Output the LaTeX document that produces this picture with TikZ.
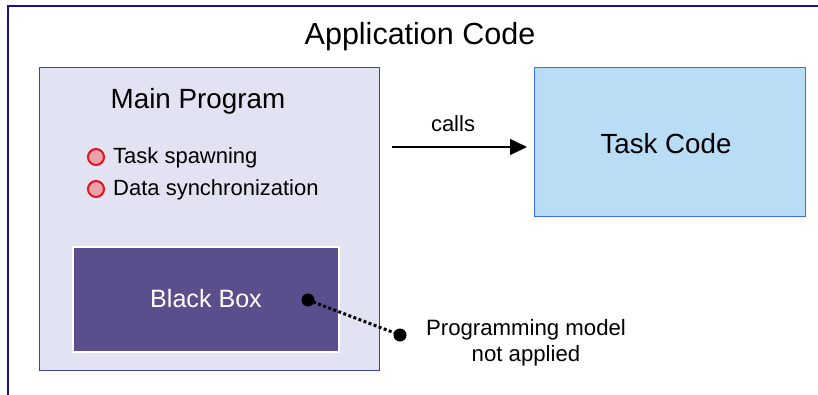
\documentclass[tikz,border=0pt]{standalone}
\usepackage{fontspec}
\setmainfont{Liberation Sans}
\usetikzlibrary{arrows.meta}
\definecolor{frame}{HTML}{14148C}
\definecolor{mainfill}{HTML}{E1E3F3}
\definecolor{mainedge}{HTML}{3444B0}
\definecolor{bbfill}{HTML}{5B4E8C}
\definecolor{taskfill}{HTML}{B9DDF4}
\definecolor{taskedge}{HTML}{3A6CF5}
\definecolor{bulletedge}{HTML}{E8101A}
\definecolor{bulletfill}{HTML}{E8A2AA}
\tikzset{
  boxstyle/.style={draw, inner sep=0pt, anchor=north west},
  lbl/.style={inner sep=0pt, text=black},
  bulletdot/.style={circle, draw=bulletedge, fill=bulletfill, line width=2pt, minimum size=16pt, inner sep=0pt},
  blackdot/.style={circle, fill=black, minimum size=13pt, inner sep=0pt},
}
\begin{document}
\begin{tikzpicture}[x=1pt,y=-1pt]
\path[use as bounding box, clip] (0,0) rectangle (818,394);
\fill[white] (0,0) rectangle (818,394);
% outer frame
\draw[frame, line width=2pt] (8,6) rectangle (840,420);
\node[lbl, font=\fontsize{30.5}{34}\selectfont] (app) at (420,37) {Application Code};
% main program
\node[boxstyle, draw=mainedge, fill=mainfill, line width=0.9pt, minimum width=340pt, minimum height=303pt] (main) at (39,67) {};
\node[lbl, font=\fontsize{27.8}{32}\selectfont] (maint) at (198,101) {Main Program};
\node[bulletdot] (b1) at (96,157) {};
\node[bulletdot] (b2) at (96,189) {};
\node[lbl, anchor=west, font=\fontsize{22}{26}\selectfont] (t1) at (113,158) {Task spawning};
\node[lbl, anchor=west, font=\fontsize{22}{26}\selectfont] (t2) at (113,190) {Data synchronization};
% black box
\node[boxstyle, draw=white, fill=bbfill, line width=1.8pt, minimum width=266pt, minimum height=105pt] (bb) at (72,246) {};
\node[lbl, text=white, font=\fontsize{25.1}{29}\selectfont] (bbt) at (206,299) {Black Box};
% task code
\node[boxstyle, draw=taskedge, fill=taskfill, line width=0.9pt, minimum width=271pt, minimum height=149pt] (task) at (534,67) {};
\node[lbl, font=\fontsize{27.7}{32}\selectfont] (taskt) at (666,144) {Task Code};
% calls arrow
\coordinate (cstart) at (392,147);
\draw[line width=1.5pt, -{Triangle[length=17pt,width=16pt]}, shorten >=7pt] (cstart) -- (task.west |- cstart);
\node[lbl, font=\fontsize{22}{26}\selectfont] (calls) at (453,124) {calls};
% dotted connector
\node[blackdot] (d1) at (308,300) {};
\node[blackdot] (d2) at (400,335) {};
\draw[line width=3pt, dash pattern=on 3pt off 2.4pt] (d1.center) -- (d2.center);
\node[lbl, align=center, font=\fontsize{22.2}{26}\selectfont] (pm) at (526,343) {Programming model\\not applied};
\end{tikzpicture}
\end{document}
